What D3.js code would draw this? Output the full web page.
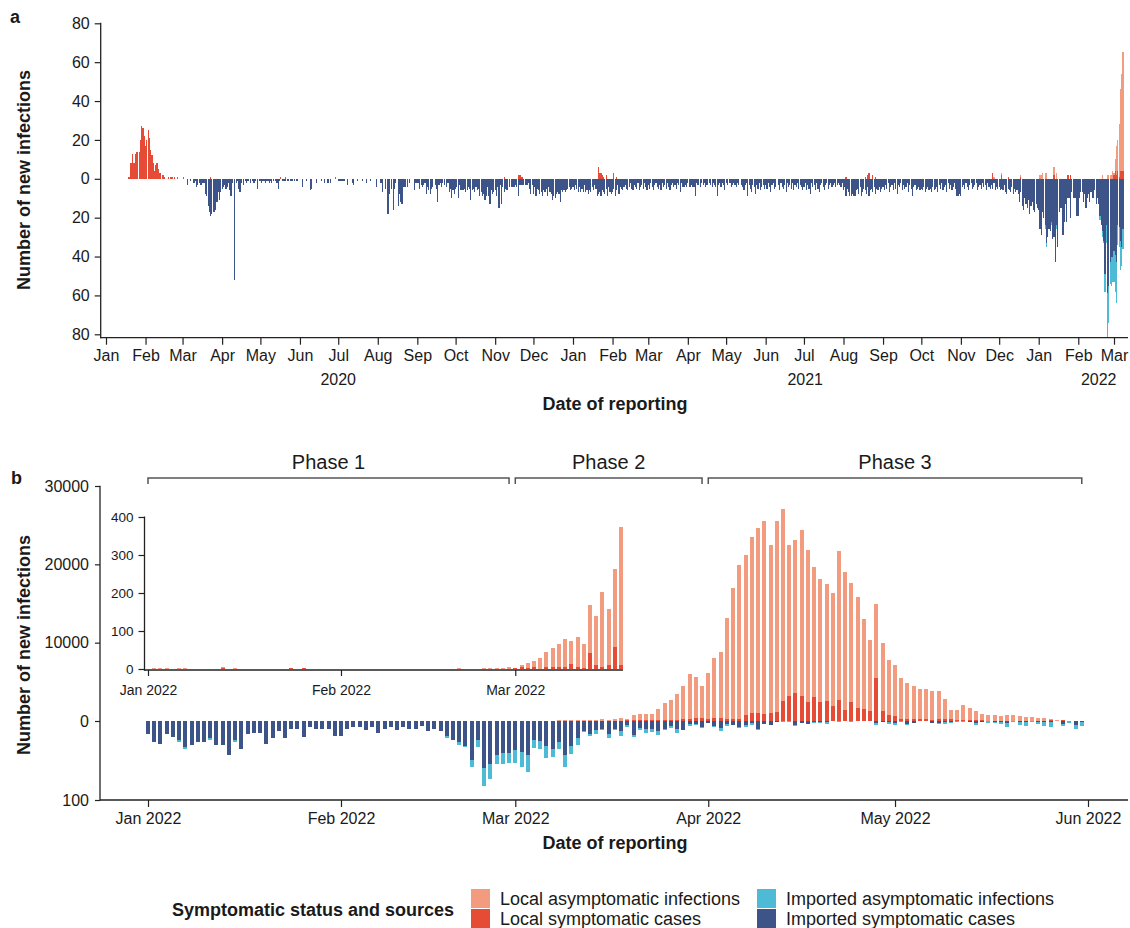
<!DOCTYPE html>
<html>
<head>
<meta charset="utf-8">
<script src="https://cdn.jsdelivr.net/npm/d3@7"></script>
<style>
  body { margin: 0; background: #fff; }
  text { font-family: "Liberation Sans", Arial, Helvetica, sans-serif; fill: #1a1a1a; }
</style>
</head>
<body>
<div id="chart"></div>
<script>
const width = 1130;
const height = 928;

// colours of the four groups
const cLocalAsym = "#F39B7F";
const cLocalSym = "#E64B35";
const cImpAsym = "#4DBBD5";
const cImpSym = "#3C5488";

// ---------- panel a: imported symptomatic cases, one array per month ----------
const importedSym2020 = [
  [0,0,0,0,0,0,0,0,0,0,0,0,0,0,0,0,0,0,0,0,0,0,0,0,0,0,0,0,0,0,0],
  [0,0,0,0,0,0,0,0,0,0,0,0,0,0,0,0,0,0,0,0,0,0,0,0,0,0,0,0,0],
  [0,0,0,0,3,0,1,0,0,2,1,4,3,2,3,3,2,2,8,9,14,17,19,18,17,17,16,12,7,11,7],
  [5,4,3,5,4,2,6,9,2,0,52,2,1,5,7,2,0,3,1,2,1,1,2,0,1,2,1,0,5,1],
  [1,2,1,1,2,1,1,2,1,2,1,0,1,2,5,1,0,1,1,1,1,1,1,0,1,1,0,1,1,1,0],
  [0,0,4,0,0,1,0,0,6,5,0,0,0,2,0,0,0,1,0,2,0,0,2,0,2,0,0,0,0,0],
  [1,1,1,1,1,1,0,3,0,0,0,2,3,0,0,1,0,0,0,1,0,0,2,0,0,1,0,0,0,0,4],
  [0,0,2,2,7,0,5,0,18,8,0,5,16,5,2,0,14,8,12,13,4,4,4,4,0,2,0,0,0,6,2],
  [2,2,5,3,4,3,2,8,4,6,8,5,4,0,3,5,12,3,2,4,2,3,0,4,2,7,5,10,6,8],
  [5,4,10,3,6,6,6,5,7,6,4,5,11,6,5,7,4,6,5,9,7,9,8,11,9,4,9,13,6,8,7],
  [6,9,4,15,3,13,4,7,5,6,6,4,0,4,4,4,3,4,9,3,3,3,3,0,3,3,2,5,8,3],
  [8,4,9,5,6,8,7,9,6,7,5,9,4,7,8,11,9,10,8,7,8,12,6,7,6,7,6,5,4,6,5]
];
const importedSym2021 = [
  [4,6,3,5,7,4,7,5,7,3,7,6,8,6,7,4,6,3,5,9,8,7,9,6,7,8,5,9,4,7,8],
  [7,5,9,6,3,8,4,5,6,4,3,5,6,4,2,5,6,3,4,5,2,6,4,3,5,2,4,6],
  [3,5,2,4,6,3,2,4,5,3,6,2,4,3,5,2,4,6,3,2,4,3,5,2,3,7,2,4,4,3,4],
  [2,4,4,3,4,4,9,2,3,0,4,2,3,2,4,3,0,2,3,4,2,3,4,9,3,2,4,2,3,6],
  [2,3,0,2,4,3,2,3,4,2,3,0,3,4,6,3,2,9,3,5,7,3,4,8,3,5,2,6,4,3,5],
  [3,5,2,4,7,3,2,5,4,0,3,6,2,4,5,3,7,2,4,3,5,2,6,3,4,2,5,3,4,6],
  [4,2,6,3,5,8,2,4,3,6,2,5,7,3,2,4,6,3,2,5,3,2,4,3,2,4,3,2,3,4,2],
  [6,4,9,5,7,9,9,8,9,9,6,5,8,4,9,7,5,6,8,4,9,6,5,7,4,8,5,6,4,7,5],
  [4,6,3,5,2,7,4,3,6,2,5,8,3,4,2,6,3,5,4,2,7,3,5,9,4,3,6,5,4,6],
  [5,6,4,7,5,4,6,5,7,4,6,5,4,7,3,5,2,6,4,3,7,2,5,3,6,4,2,5,9,9,8],
  [9,4,3,5,2,4,6,3,2,5,4,3,2,6,4,3,5,2,4,3,6,2,4,5,3,5,2,6,4,5],
  [4,6,5,6,3,7,8,5,6,7,4,8,5,7,6,8,12,7,14,16,10,13,15,11,18,14,12,16,17,13,15]
];
// local cases 2020-2021 (only days with cases)
const localSymA = [
  ["2020-01-19",1],["2020-01-20",8],["2020-01-21",8],["2020-01-22",13],["2020-01-23",8],
  ["2020-01-24",13],["2020-01-25",14],["2020-01-26",14],["2020-01-27",14],["2020-01-28",20],
  ["2020-01-29",27],["2020-01-30",26],["2020-01-31",22],["2020-02-01",17],["2020-02-02",20],
  ["2020-02-03",25],["2020-02-04",21],["2020-02-05",15],["2020-02-06",12],["2020-02-07",8],
  ["2020-02-08",4],["2020-02-09",7],["2020-02-10",8],["2020-02-11",5],["2020-02-12",3],
  ["2020-02-13",3],["2020-02-14",2],["2020-02-15",2],["2020-02-16",1],["2020-02-19",1],
  ["2020-02-21",1],["2020-02-22",1],["2020-02-24",1],["2020-02-26",1],["2020-03-02",1],
  ["2020-03-23",1],["2020-05-17",1],["2020-05-21",1],["2020-06-29",1],["2020-11-08",1],
  ["2020-11-19",2],["2020-11-20",2],["2020-11-21",2],["2020-11-22",1],["2021-01-21",6],
  ["2021-01-22",3],["2021-01-23",3],["2021-01-24",2],["2021-01-25",1],["2021-01-27",2],
  ["2021-02-02",3],["2021-02-04",1],["2021-08-03",1],["2021-08-18",1],["2021-08-20",2],
  ["2021-08-21",3],["2021-08-24",2],["2021-08-26",1],["2021-11-26",3],["2021-12-03",2],
  ["2021-12-08",1],["2021-12-18",1]
];
const localAsymA = [["2021-11-27",1],["2021-12-03",1],["2021-12-18",1]];
const lastDayA = "2022-03-08";

// ---------- panel b: daily values 2022, one array per month (Jan..May) ----------
const localAsymB = [
  [0,2,2,3,0,3,3,0,0,0,0,0,4,0,3,0,0,0,0,0,0,0,0,0,0,0,0,0,0,0,0],
  [0,0,0,0,0,0,0,0,0,0,0,0,0,0,0,0,0,0,0,2,0,0,0,2,2,2,2,4],
  [1,6,15,16,27,42,50,61,76,63,79,63,126,129,197,147,205,364,220,620,790,770,790,1380,2150,2560,3300,4270,5700,5240,4090],
  [5880,7660,8430,12900,16730,19660,20420,22470,23620,24640,21450,24380,24510,19280,19540,21190,19400,16600,15700,14940,14430,19020,17620,15190,14170,11490,9060,9450,8680,7020],
  [6510,5240,4600,4220,3840,3840,3700,3580,2560,1150,1270,1910,1530,1150,790,710,710,580,710,710,580,450,450,320,320,150,130,0,0,0,0]
];
const localSymB = [
  [0,0,0,0,0,0,0,0,0,0,0,0,2,0,0,0,0,0,0,0,0,0,0,2,0,2,0,0,0,0,0],
  [0,0,0,0,0,0,0,0,0,0,0,0,0,0,0,0,0,0,0,0,0,0,0,0,0,0,0,0],
  [2,4,2,4,1,4,4,4,4,12,4,2,42,10,5,10,58,10,80,100,100,120,100,150,150,120,150,200,300,380,380],
  [250,380,380,250,250,250,770,1020,1020,890,1020,1150,2550,3190,3570,3190,2430,3060,2430,2550,1910,2680,1400,2430,1660,1530,1280,5490,1280,770],
  [640,250,250,250,250,250,130,250,250,250,130,130,130,130,100,60,60,60,60,60,60,60,60,60,60,100,0,130,0,0,0]
];
const impSymB = [
  [16,26,29,17,20,24,33,30,26,27,22,31,30,43,24,35,17,15,15,29,22,13,22,10,10,20,7,10,10,10,19],
  [19,10,7,7,12,8,15,10,8,12,7,10,10,6,13,10,13,19,24,27,32,49,24,59,55,43,40,40],
  [37,39,43,24,25,32,35,26,43,32,22,13,16,12,10,16,10,13,5,18,9,10,10,13,10,6,10,11,4,4,8],
  [3,6,9,4,5,8,5,3,10,4,5,1,0,0,5,3,4,1,1,1,0,0,0,0,0,0,0,3,1,1],
  [3,0,4,3,0,0,3,3,1,1,0,0,1,3,1,0,1,1,3,0,1,1,0,1,1,1,0,4,0,5,1]
];
const impAsymB = [
  [0,0,0,0,0,2,2,0,0,0,2,0,0,0,2,0,0,0,0,0,0,0,0,0,0,0,0,0,0,0,0],
  [0,0,0,0,0,0,0,0,0,0,0,0,0,0,0,0,0,2,0,3,1,9,9,23,19,11,15,13],
  [16,19,21,10,10,15,10,10,15,10,9,1,3,4,1,5,2,6,3,2,2,5,4,5,1,3,5,1,2,1,1],
  [0,1,4,2,0,1,3,2,1,0,0,0,1,1,1,0,0,2,1,3,0,1,0,1,0,0,0,2,0,3],
  [2,1,1,0,0,0,0,1,3,1,1,1,0,2,0,2,1,3,4,1,4,5,1,3,5,6,0,2,2,5,5]
];
const insetLastDay = "2022-03-18";

const phases = [
  {label: "Phase 1", start: "2022-01-01", end: "2022-02-28"},
  {label: "Phase 2", start: "2022-03-01", end: "2022-03-31"},
  {label: "Phase 3", start: "2022-04-01", end: "2022-05-31"}
];
const yearLabels = [["2020","2020-07-01"],["2021","2021-07-02"],["2022","2022-02-17"]];
const ticksA = [-80,-60,-40,-20,0,20,40,60,80];
const ticksBPos = [0,10000,20000,30000];
const ticksBNeg = [100];
const ticksInset = [0,100,200,300,400];
const legendItems = [
  ["Local asymptomatic infections", cLocalAsym],
  ["Local symptomatic cases", cLocalSym],
  ["Imported asymptomatic infections", cImpAsym],
  ["Imported symptomatic cases", cImpSym]
];

// ---------- build daily records ----------
const parse = d3.utcParse("%Y-%m-%d");
const key = d3.utcFormat("%Y-%m-%d");

let daysB = [];
const flat = a => a.flat();
const lAsymB = flat(localAsymB), lSymB = flat(localSymB), iSymB = flat(impSymB), iAsymB = flat(impAsymB);
lSymB.forEach((v, i) => {
  daysB.push({
    date: new Date(Date.UTC(2022, 0, 1 + i)),
    localSym: v, localAsym: lAsymB[i], impSym: iSymB[i], impAsym: iAsymB[i]
  });
});

let daysA = [];
importedSym2020.concat(importedSym2021).forEach((vals, m) => {
  vals.forEach((v, i) => {
    daysA.push({date: new Date(Date.UTC(2020, m, i + 1)), localSym: 0, localAsym: 0, impSym: v, impAsym: 0});
  });
});
let byKey = new Map(daysA.map(d => [key(d.date), d]));
localSymA.forEach(([k, v]) => { byKey.get(k).localSym = v; });
localAsymA.forEach(([k, v]) => { byKey.get(k).localAsym = v; });
daysA = daysA.concat(daysB.filter(d => d.date <= parse(lastDayA)));

// ---------- svg ----------
const svg = d3.select("#chart").append("svg")
  .attr("width", width)
  .attr("height", height);

function styleAxis(g, size) {
  g.selectAll("path, line").attr("stroke", "#222").attr("stroke-width", 1.2);
  g.selectAll("text").attr("font-size", size).attr("fill", "#1a1a1a")
    .style("font-family", '"Liberation Sans", Arial, sans-serif');
}

// draws the four stacked groups for one set of days
function drawBars(g, days, x, w, yUp, yDown) {
  const parts = [
    {color: cLocalSym, y0: d => 0, y1: d => d.localSym, up: true},
    {color: cLocalAsym, y0: d => d.localSym, y1: d => d.localSym + d.localAsym, up: true},
    {color: cImpSym, y0: d => 0, y1: d => d.impSym, up: false},
    {color: cImpAsym, y0: d => d.impSym, y1: d => d.impSym + d.impAsym, up: false}
  ];
  parts.forEach(p => {
    const sc = p.up ? yUp : yDown;
    if (!sc) return;
    g.append("g").selectAll("rect")
      .data(days.filter(d => p.y1(d) > p.y0(d))).enter()
      .append("rect")
      .attr("x", d => x(d.date) - w / 2)
      .attr("width", w)
      .attr("y", d => Math.min(sc(p.y0(d)), sc(p.y1(d))))
      .attr("height", d => Math.abs(sc(p.y1(d)) - sc(p.y0(d))))
      .attr("fill", p.color)
      .attr("shape-rendering", "crispEdges");
  });
}

// ================= panel a =================
const xA = d3.scaleUtc()
  .domain([new Date(Date.UTC(2020, 0, 1)), new Date(Date.UTC(2022, 2, 1))])
  .range([106, 1114]);
const yA = d3.scaleLinear()
  .domain([-80, 80])
  .range([334.3, 23.3]);
const dayW = xA(new Date(Date.UTC(2020, 0, 2))) - xA(new Date(Date.UTC(2020, 0, 1)));

const gA = svg.append("g");
drawBars(gA, daysA, xA, dayW * 0.9,
  v => yA(v), v => yA(-v));

// axes
const axA = gA.append("g")
  .attr("transform", "translate(100.7,0)")
  .call(d3.axisLeft(yA).tickValues(ticksA).tickSize(6).tickPadding(5).tickFormat(d => Math.abs(d)));
axA.select(".domain").remove();
styleAxis(axA, 16);
gA.append("line").attr("x1", 100.7).attr("x2", 100.7).attr("y1", 22.7).attr("y2", 338.3)
  .attr("stroke", "#222").attr("stroke-width", 1.3);

const axAx = gA.append("g")
  .attr("transform", "translate(0,337.7)")
  .call(d3.axisBottom(xA)
    .tickValues(d3.utcMonth.range(new Date(Date.UTC(2020, 0, 1)), new Date(Date.UTC(2022, 2, 2))))
    .tickSize(7).tickPadding(5).tickFormat(d3.utcFormat("%b")));
axAx.select(".domain").remove();
styleAxis(axAx, 16);
gA.append("line").attr("x1", 100).attr("x2", 1128).attr("y1", 337.7).attr("y2", 337.7)
  .attr("stroke", "#222").attr("stroke-width", 1.3);

gA.selectAll(".year").data(yearLabels).enter()
  .append("text")
  .attr("x", d => xA(parse(d[1])))
  .attr("y", 385)
  .attr("text-anchor", "middle")
  .attr("font-size", 16)
  .text(d => d[0]);

gA.append("text")
  .attr("x", 615).attr("y", 410)
  .attr("text-anchor", "middle")
  .attr("font-size", 18).attr("font-weight", "bold")
  .text("Date of reporting");

gA.append("text")
  .attr("transform", "rotate(-90)")
  .attr("x", -180).attr("y", 30)
  .attr("text-anchor", "middle")
  .attr("font-size", 18).attr("font-weight", "bold")
  .text("Number of new infections");

gA.append("text").attr("x", 10).attr("y", 23)
  .attr("font-size", 18).attr("font-weight", "bold").text("a");

// ================= panel b =================
const xB = d3.scaleUtc()
  .domain([new Date(Date.UTC(2022, 0, 1)), new Date(Date.UTC(2022, 5, 1))])
  .range([148, 1088]);
const yPos = d3.scaleLinear().domain([0, 30000]).range([721, 486]);
const yNeg = d3.scaleLinear().domain([0, 100]).range([721, 800]);

const gB = svg.append("g");
drawBars(gB, daysB, xB, 4, v => yPos(v), v => yNeg(v));

const axBp = gB.append("g").attr("transform", "translate(100,0)")
  .call(d3.axisLeft(yPos).tickValues(ticksBPos).tickSize(5).tickPadding(6).tickFormat(d3.format("d")));
axBp.select(".domain").remove();
styleAxis(axBp, 16);
const axBn = gB.append("g").attr("transform", "translate(100,0)")
  .call(d3.axisLeft(yNeg).tickValues(ticksBNeg).tickSize(5).tickPadding(6).tickFormat(d3.format("d")));
axBn.select(".domain").remove();
styleAxis(axBn, 16);
gB.append("line").attr("x1", 100).attr("x2", 100).attr("y1", 485.7).attr("y2", 800.6)
  .attr("stroke", "#222").attr("stroke-width", 1.3);

const axBx = gB.append("g").attr("transform", "translate(0,800)")
  .call(d3.axisBottom(xB)
    .tickValues(d3.utcMonth.range(new Date(Date.UTC(2022, 0, 1)), new Date(Date.UTC(2022, 5, 2))))
    .tickSize(7).tickPadding(5.6).tickFormat(d3.utcFormat("%b %Y")));
axBx.select(".domain").remove();
styleAxis(axBx, 16);
gB.append("line").attr("x1", 100).attr("x2", 1128).attr("y1", 800).attr("y2", 800)
  .attr("stroke", "#222").attr("stroke-width", 1.3);

gB.append("text")
  .attr("x", 615).attr("y", 849)
  .attr("text-anchor", "middle")
  .attr("font-size", 18).attr("font-weight", "bold")
  .text("Date of reporting");

gB.append("text")
  .attr("transform", "rotate(-90)")
  .attr("x", -645).attr("y", 30)
  .attr("text-anchor", "middle")
  .attr("font-size", 18).attr("font-weight", "bold")
  .text("Number of new infections");

gB.append("text").attr("x", 11).attr("y", 484)
  .attr("font-size", 18).attr("font-weight", "bold").text("b");

// phase brackets
const gP = gB.append("g");
phases.forEach(p => {
  const x0 = xB(parse(p.start)), x1 = xB(parse(p.end));
  gP.append("path")
    .attr("d", `M${x0},484V478H${x1}V484`)
    .attr("fill", "none").attr("stroke", "#555").attr("stroke-width", 1.5);
  gP.append("text")
    .attr("x", (x0 + x1) / 2).attr("y", 469)
    .attr("text-anchor", "middle")
    .attr("font-size", 20)
    .text(p.label);
});

// inset: local cases Jan 1 - Mar 18, 0-400
const yIn = d3.scaleLinear().domain([0, 400]).range([669, 517]);
const gI = gB.append("g");
drawBars(gI, daysB.filter(d => d.date <= parse(insetLastDay)), xB, 4, v => yIn(v), null);

const axIy = gI.append("g").attr("transform", "translate(144.5,0)")
  .call(d3.axisLeft(yIn).tickValues(ticksInset).tickSize(6).tickPadding(5));
axIy.select(".domain").remove();
styleAxis(axIy, 13.5);
gI.append("line").attr("x1", 144.5).attr("x2", 144.5).attr("y1", 516.5).attr("y2", 670.6)
  .attr("stroke", "#222").attr("stroke-width", 1.3);

const axIx = gI.append("g").attr("transform", "translate(0,670)")
  .call(d3.axisBottom(xB)
    .tickValues(d3.utcMonth.range(new Date(Date.UTC(2022, 0, 1)), new Date(Date.UTC(2022, 2, 2))))
    .tickSize(6).tickPadding(9).tickFormat(d3.utcFormat("%b %Y")));
axIx.select(".domain").remove();
styleAxis(axIx, 14);
gI.append("line").attr("x1", 144).attr("x2", 623).attr("y1", 670).attr("y2", 670)
  .attr("stroke", "#222").attr("stroke-width", 1.5);

// ================= legend =================
const gL = svg.append("g");
gL.append("text")
  .attr("x", 172).attr("y", 916)
  .attr("font-size", 18).attr("font-weight", "bold")
  .text("Symptomatic status and sources");
const legendPos = [[471, 889], [471, 909], [757, 889], [757, 909]];
const lg = gL.selectAll(".lg").data(legendItems).enter().append("g")
  .attr("transform", (d, i) => `translate(${legendPos[i][0]},${legendPos[i][1]})`);
lg.append("rect").attr("width", 19).attr("height", 19).attr("fill", d => d[1]);
lg.append("text").attr("x", 29).attr("y", 16).attr("font-size", 18).text(d => d[0]);
</script>
</body>
</html>
